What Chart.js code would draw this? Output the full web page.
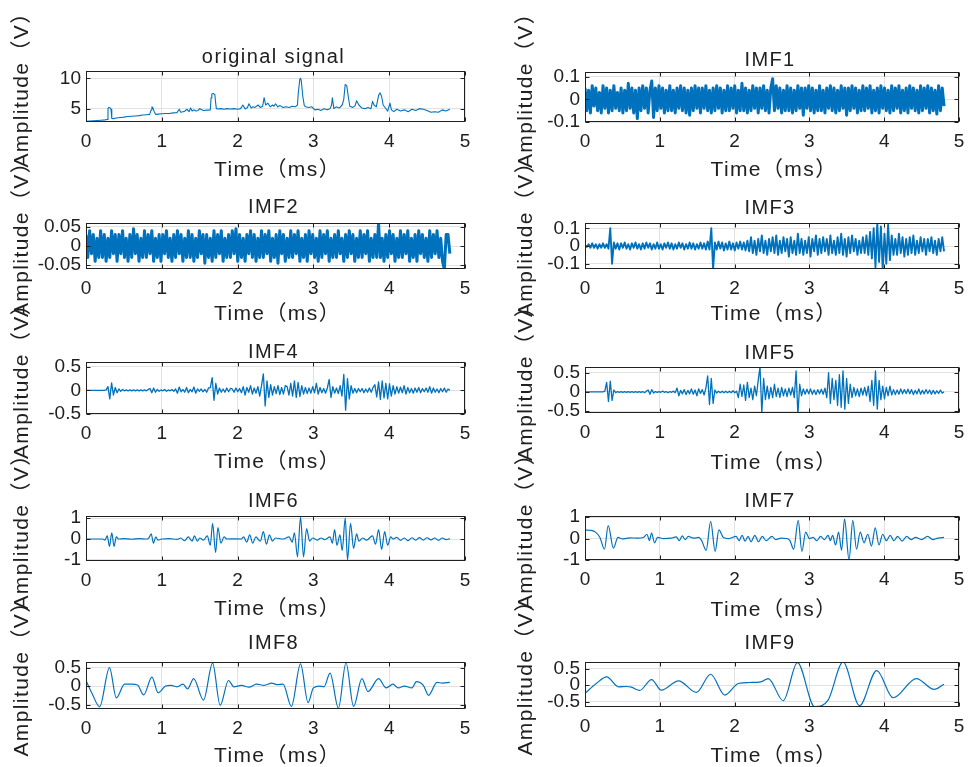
<!DOCTYPE html>
<html>
<head>
<meta charset="utf-8">
<script src="https://cdn.jsdelivr.net/npm/chart.js@4.4.1/dist/chart.umd.min.js"></script>
<style>
  html, body { margin: 0; padding: 0; background: #fff; }
  body { width: 970px; height: 767px; position: relative; overflow: hidden; }
  .panel { position: absolute; }
</style>
</head>
<body>
<script>
// ---- data ----
const xTicks = [0, 1, 2, 3, 4, 5];

// sample clock of the dense (noise-like) components
const SAMPLES = 200;
const T_END = 4.8;
const sampleTime = Array.from({length: SAMPLES}, (_, i) => +(i * T_END / (SAMPLES - 1)).toFixed(4));

const origTime = [0,0.05,0.1,0.15,0.2,0.25,0.28,0.29,0.3,0.32,
  0.33,0.34,0.36,0.4,0.45,0.5,0.55,0.6,0.65,0.7,
  0.75,0.8,0.84,0.86,0.87,0.88,0.9,0.92,0.95,1.0,
  1.05,1.1,1.15,1.2,1.23,1.25,1.28,1.3,1.33,1.36,
  1.38,1.4,1.42,1.45,1.48,1.5,1.55,1.6,1.64,1.65,
  1.66,1.68,1.7,1.71,1.72,1.74,1.78,1.82,1.86,1.9,
  1.95,2.0,2.04,2.07,2.1,2.13,2.15,2.18,2.2,2.23,
  2.27,2.3,2.33,2.35,2.37,2.4,2.43,2.46,2.48,2.5,
  2.53,2.56,2.6,2.64,2.68,2.72,2.76,2.79,2.8,2.82,
  2.83,2.84,2.86,2.88,2.9,2.94,2.98,3.02,3.06,3.1,
  3.14,3.18,3.22,3.24,3.25,3.27,3.3,3.34,3.38,3.4,
  3.42,3.44,3.46,3.48,3.52,3.55,3.57,3.6,3.64,3.68,
  3.72,3.76,3.78,3.8,3.83,3.86,3.88,3.9,3.92,3.95,
  3.98,4.01,4.03,4.06,4.1,4.15,4.2,4.25,4.3,4.35,
  4.4,4.45,4.5,4.55,4.6,4.65,4.7,4.75,4.8];
const origValues = [2.9,2.95,3.0,3.05,3.1,3.15,3.2,5.0,5.2,5.1,
  4.9,3.4,3.35,3.45,3.55,3.6,3.7,3.75,3.8,3.85,
  3.95,4.0,4.05,4.8,5.3,5.2,4.5,4.05,4.1,4.15,
  4.2,4.2,4.3,4.35,4.9,4.4,4.5,4.55,4.9,4.5,
  5.1,4.6,4.8,4.6,4.7,5.0,4.7,4.75,4.8,6.8,
  7.4,7.5,7.3,6.0,5.0,4.95,5.0,4.9,5.0,4.95,
  5.0,4.9,5.0,5.6,4.95,5.2,5.8,5.1,5.3,5.2,
  5.6,5.2,5.4,6.8,5.6,5.9,5.3,5.6,5.4,5.8,
  5.3,5.5,5.2,5.3,5.2,5.4,5.3,5.6,7.5,9.8,
  10.0,9.6,7.0,5.5,5.3,5.2,5.3,4.8,4.9,4.7,
  5.0,4.8,5.0,5.6,6.8,5.0,5.3,5.1,5.6,6.5,
  9.0,8.8,7.0,5.4,5.2,5.5,6.3,5.6,5.1,5.0,
  5.2,5.0,6.2,5.6,5.3,7.2,7.6,7.0,5.6,5.1,
  4.6,5.9,4.8,4.5,4.9,4.6,4.8,4.5,4.9,4.7,
  5.0,4.9,4.7,4.4,4.5,4.4,4.8,4.6,4.9];

const imf1 = [.05,-.05,.04,-.06,.06,-.03,.05,-.05,.03,-.06,
  .06,-.04,.05,-.06,.04,-.05,.06,-.04,.03,-.05,
  .05,-.06,.04,-.05,.07,-.04,.05,-.06,.04,-.085,
  .05,-.05,.06,-.04,.05,-.06,.04,.08,-.08,.05,
  -.05,.06,-.04,.05,-.06,.04,-.05,.06,-.05,.04,
  -.06,.05,-.04,.06,-.05,.05,-.06,.04,-.07,.05,
  -.05,.06,-.04,.05,-.06,.05,-.04,.06,-.05,.04,
  -.06,.05,-.05,.06,-.04,.05,-.06,.04,-.05,.06,
  -.05,.05,-.04,.06,-.06,.04,-.05,.07,-.05,.05,
  -.06,.04,-.05,.06,-.04,.05,-.06,.05,-.04,.06,
  -.05,.04,-.06,.05,.09,-.05,.06,-.04,.05,-.06,
  .04,-.05,.06,-.05,.05,-.06,.04,-.05,.06,-.04,
  .05,-.07,.05,-.04,.06,-.05,.05,-.06,.04,-.05,
  .06,-.05,.04,-.06,.05,-.04,.06,-.05,.05,-.06,
  .04,-.05,.06,-.04,.05,-.07,.05,-.05,.06,-.04,
  .05,-.06,.04,-.05,.06,-.05,.05,-.04,.06,-.06,
  .04,-.05,.05,-.06,.06,-.04,.05,-.05,.04,-.06,
  .06,-.05,.05,-.04,.06,-.06,.04,-.05,.05,-.06,
  .06,-.04,.05,-.05,.04,-.06,.06,-.05,.05,-.04,
  .06,-.06,.05,-.05,.04,-.065,.06,-.05,.05,-.03];

const imf2 = [.03,-.03,.04,-.02,.03,-.04,.02,-.03,.04,-.03,
  .03,-.04,.02,-.03,.04,-.02,.03,-.04,.03,-.02,
  .04,-.03,.02,-.04,.03,-.03,.045,-.02,.03,-.04,
  .02,-.03,.04,-.03,.03,-.02,.04,-.04,.02,-.03,
  .03,-.04,.03,-.02,.04,-.03,.02,-.04,.03,-.03,
  .04,-.02,.03,-.04,.02,-.03,.04,-.03,.03,-.04,
  .02,-.03,.04,-.02,.03,-.045,.03,-.03,.02,-.04,
  .04,-.03,.03,-.02,.04,-.04,.02,-.03,.03,-.03,
  .04,-.02,.045,-.04,.03,-.03,.02,-.04,.03,-.02,
  .04,-.03,.03,-.04,.02,-.03,.04,-.03,.03,-.02,
  .04,-.04,.02,-.03,.03,-.045,.04,-.02,.03,-.04,
  .02,-.03,.04,-.03,.03,-.02,.04,-.04,.02,-.03,
  .03,-.04,.04,-.02,.03,-.03,.02,-.04,.04,-.03,
  .03,-.02,.04,-.04,.02,-.03,.03,-.03,.04,-.02,
  .02,-.04,.03,-.03,.04,-.02,.03,-.04,.02,-.03,
  .04,-.03,.03,-.02,.04,-.04,.02,-.03,.03,-.03,
  .06,-.03,.02,-.04,.03,-.03,.04,-.02,.03,-.04,
  .02,-.03,.04,-.03,.03,-.02,.04,-.04,.02,-.03,
  .03,-.04,.04,-.02,.03,-.03,.02,-.04,.04,-.03,
  .03,-.02,.04,-.03,.02,-.04,-.06,.03,.03,-.02];

const imf3 = [.005,-.005,.01,-.01,.015,-.01,.01,-.015,.01,-.01,
  .015,-.01,.01,-.015,.1,-.1,.02,-.015,.015,-.02,
  .015,-.01,.02,-.015,.01,-.02,.015,-.01,.02,-.015,
  .01,-.02,.015,-.015,.02,-.01,.015,-.02,.01,-.015,
  .02,-.015,.01,-.02,.015,-.01,.02,-.015,.015,-.02,
  .01,-.015,.02,-.01,.015,-.02,.01,-.015,.02,-.015,
  .015,-.02,.01,-.015,.02,-.015,.015,-.02,.025,-.02,
  .1,-.13,.02,-.02,.025,-.015,.02,-.025,.015,-.02,
  .025,-.02,.015,-.025,.02,-.015,.025,-.02,.02,-.025,
  .03,-.03,.05,-.04,.03,-.05,.04,-.03,.06,-.04,
  .03,-.05,.04,-.03,.05,-.04,.06,-.05,.03,-.04,
  .05,-.03,.04,-.06,.05,-.04,.03,-.05,.07,-.04,
  .04,-.05,.03,-.04,.05,-.06,.04,-.03,.06,-.05,
  .04,-.04,.05,-.03,.04,-.05,.06,-.04,.03,-.05,
  .05,-.04,.07,-.05,.04,-.06,.05,-.04,.06,-.03,
  .04,-.05,.03,-.04,.05,-.04,.06,-.05,.08,-.07,
  .1,-.12,.13,-.09,.11,-.13,.07,-.1,.12,-.08,
  .06,-.05,.04,-.05,.07,-.04,.05,-.06,.04,-.05,
  .05,-.04,.06,-.05,.03,-.04,.05,-.03,.04,-.05,
  .04,-.03,.05,-.04,.03,-.05,.04,-.03,.05,-.03];

const imf4 = [0,0,0,0,0,0,0,0,0,0,
  0,.01,.08,-.18,.16,-.1,.06,-.05,.03,-.02,
  .02,-.01,.01,-.01,.01,-.01,.01,-.01,.01,-.01,
  .01,-.01,.01,-.01,.02,.04,-.05,.05,-.04,.02,
  -.02,.01,-.01,.02,-.02,.01,-.01,.02,-.02,.03,
  -.06,.07,-.03,.02,-.04,.06,-.05,.02,-.03,.07,
  -.06,.03,-.02,.03,-.03,.02,-.04,.05,.06,.27,
  -.21,.15,-.08,.05,-.04,.03,-.04,.05,-.03,.04,
  .03,-.04,.05,-.03,.04,-.05,.08,-.1,.06,-.04,
  .1,-.08,.05,-.06,.08,-.12,.1,.35,-.33,.2,
  -.15,.12,-.1,.08,-.07,.1,-.09,.06,-.08,.1,
  .08,-.1,.15,-.12,.2,-.15,.17,-.13,.1,-.08,
  .06,-.07,.05,-.06,.08,-.05,.15,-.08,.06,-.05,
  .04,-.06,.05,.23,-.15,.08,-.06,.05,-.07,.1,
  -.12,.34,-.42,.25,-.18,.1,-.06,.04,-.05,.04,
  -.03,.04,-.05,.03,-.04,.05,-.04,.06,.12,-.14,
  .18,-.19,.2,-.16,.15,-.18,.14,-.12,.1,-.08,
  .08,-.06,.07,-.05,.1,-.08,.06,-.05,.04,-.06,
  .05,-.04,.06,-.05,.04,-.03,.05,-.04,.08,-.06,
  .05,-.04,.03,-.05,.04,-.03,.05,-.04,.03,0];

const imf5 = [0,0,0,0,0,0,0,0,0,0,
  0,.02,.25,-.25,.28,-.22,.05,-.02,.01,-.01,
  .01,-.01,.01,-.01,.01,-.01,.01,-.01,.01,-.01,
  .01,-.01,.01,-.02,.02,.05,-.06,.06,-.03,.01,
  -.01,.01,-.01,.02,-.01,.01,-.02,.01,-.01,.02,
  -.02,.1,-.1,.04,-.05,.06,-.07,.04,-.05,.08,
  -.06,.05,-.1,.08,-.04,.06,-.08,.1,.42,-.33,
  .35,-.3,.05,-.03,.02,-.02,.02,-.02,.02,-.02,
  .02,-.02,.03,-.02,.02,-.15,.2,-.12,.18,-.22,
  .25,-.15,.1,-.2,.15,-.1,.3,.65,-.55,.35,
  -.2,.15,-.18,.12,-.15,.2,-.12,.1,-.14,.12,
  -.1,.08,-.12,.1,-.08,.12,-.15,.55,-.6,.2,
  -.1,.08,-.06,.07,-.05,.08,-.06,.05,-.07,.06,
  -.05,.07,-.06,.1,-.15,.5,-.3,.35,-.2,.3,
  -.35,.45,-.4,.55,-.45,.35,-.3,.2,-.15,.12,
  -.1,.08,-.12,.1,-.08,.12,-.1,.15,-.25,.3,
  -.35,.55,-.45,.3,-.2,.15,-.18,.12,-.1,.15,
  -.08,.06,-.07,.05,-.06,.08,-.05,.06,-.04,.07,
  -.05,.06,-.07,.04,-.05,.08,-.06,.04,-.05,.06,
  -.04,.05,-.06,.04,-.05,.03,-.04,.05,-.03,0];

const imf6Time = [0,0.22,0.25,0.28,0.31,0.34,0.37,0.40,0.43,0.5,
  0.6,0.7,0.8,0.83,0.86,0.89,0.92,0.95,1.0,1.1,
  1.2,1.25,1.3,1.35,1.4,1.43,1.47,1.5,1.55,1.6,
  1.64,1.67,1.71,1.74,1.78,1.82,1.86,1.95,2.05,2.08,
  2.12,2.16,2.2,2.24,2.3,2.34,2.38,2.42,2.46,2.5,
  2.6,2.68,2.72,2.75,2.79,2.83,2.87,2.91,2.95,2.99,
  3.05,3.1,3.15,3.22,3.25,3.28,3.31,3.35,3.38,3.42,
  3.45,3.49,3.53,3.57,3.6,3.65,3.7,3.78,3.82,3.86,
  3.9,3.94,3.98,4.02,4.05,4.1,4.15,4.2,4.25,4.3,
  4.35,4.4,4.45,4.5,4.55,4.6,4.65,4.7,4.75,4.8];
const imf6 = [0,0,-0.05,0.15,-0.35,0.3,-0.35,0.1,0,0.02,
  -0.01,0.02,0,0.05,0.25,-0.2,0.1,-0.05,0,0.02,
  -0.02,0.05,-0.08,0.1,-0.1,0.15,-0.1,0.05,-0.05,0.15,
  -0.3,0.75,-0.65,0.55,-0.2,0.1,0,0.01,0,0.1,
  -0.15,0.2,-0.2,0.1,-0.1,0.35,-0.25,0.2,-0.1,0.05,
  0,0.1,-0.15,0.3,-0.85,1.05,-0.85,0.5,-0.1,0.05,
  -0.05,0.05,-0.03,0.1,-0.2,0.45,-0.3,0.2,-0.55,1.0,
  -1.0,0.75,-0.45,0.25,-0.1,0.05,-0.05,0.15,-0.25,0.45,
  -0.5,0.35,-0.3,0.1,0,0.08,-0.06,0.05,-0.08,0.06,
  -0.05,0.07,-0.05,0.06,-0.04,0.05,-0.06,0.05,-0.03,0.02];

const imf7Time = [0,0.08,0.14,0.2,0.26,0.31,0.38,0.44,0.5,0.6,
  0.7,0.78,0.83,0.86,0.89,0.93,0.97,1.05,1.15,1.22,
  1.26,1.3,1.34,1.38,1.45,1.52,1.56,1.62,1.68,1.74,
  1.79,1.85,1.92,2.02,2.06,2.1,2.14,2.18,2.22,2.27,
  2.32,2.37,2.42,2.5,2.55,2.62,2.7,2.74,2.79,2.85,
  2.9,2.95,3.0,3.05,3.1,3.15,3.2,3.25,3.28,3.31,
  3.35,3.39,3.43,3.47,3.53,3.58,3.63,3.68,3.73,3.78,
  3.83,3.88,3.93,3.98,4.03,4.08,4.13,4.18,4.24,4.3,
  4.36,4.42,4.5,4.58,4.65,4.72,4.8];
const imf7 = [0.4,0.38,0.3,0.05,-0.5,0.6,-0.45,0.05,-0.02,0.03,
  0.02,0.05,0.2,-0.1,0.25,-0.2,0.05,0,0.02,0.08,
  -0.1,0.12,-0.05,0.1,0.02,0.05,-0.1,-0.55,0.8,-0.6,
  0.4,0.05,0,0.1,-0.1,0.15,-0.12,0.1,-0.15,0.15,
  -0.15,0.1,-0.1,0.1,-0.05,0.02,0,-0.1,-0.5,0.85,
  -0.6,0.3,0,0.05,-0.1,0.1,-0.05,0.15,-0.1,0.15,
  -0.3,0.3,-0.55,0.9,-1.0,0.85,-0.5,0.3,-0.2,0.2,
  -0.35,0.5,-0.3,0.2,-0.1,0.15,-0.1,0.1,-0.12,0.1,
  -0.05,0.05,-0.05,0.1,-0.05,0.02,0.05];

const imf8Time = [0,0.08,0.18,0.31,0.4,0.51,0.6,0.68,0.76,0.87,
  0.95,1.05,1.12,1.2,1.28,1.34,1.42,1.55,1.67,1.77,
  1.88,1.95,2.05,2.15,2.25,2.35,2.45,2.52,2.6,2.71,
  2.83,2.93,3.0,3.08,3.14,3.22,3.33,3.43,3.53,3.64,
  3.72,3.86,3.96,4.05,4.12,4.2,4.3,4.36,4.45,4.52,
  4.63,4.7,4.8];
const imf8 = [0.15,-0.2,-0.56,0.5,-0.32,0.05,0.05,0.03,-0.24,0.24,
  -0.18,0,0.02,-0.02,0.05,-0.08,0.2,-0.38,0.62,-0.52,
  0.15,-0.02,0.02,-0.03,0.05,0.02,0.08,0.04,0.05,-0.55,
  0.6,-0.45,-0.05,0,-0.02,0.35,-0.6,0.63,-0.55,0.2,
  -0.15,0.2,-0.05,0.05,-0.05,0,-0.05,0.12,0.02,-0.25,
  0.1,0.08,0.1];

const imf9Time = [0,0.15,0.29,0.45,0.55,0.62,0.73,0.89,1.02,1.25,
  1.49,1.68,1.87,2.05,2.2,2.35,2.45,2.65,2.84,3.07,
  3.25,3.45,3.67,3.9,4.12,4.43,4.67,4.8];
const imf9 = [-0.25,0.05,0.25,-0.05,-0.04,-0.06,-0.16,0.17,-0.15,0.13,
  -0.22,0.33,-0.3,0.05,0.08,0.1,0.2,-0.47,0.68,-0.65,
  -0.45,0.7,-0.62,0.44,-0.38,0.2,-0.13,0.03];

// ---- layout / styling ----
const FONT = '"Liberation Sans", Arial, "Noto Sans CJK SC", sans-serif';
const INK = '#202020';
const LINE = '#0072BD';
const GRID = '#e2e2e2';
const PADT = 85, PADB = 72, PADR = 15;

// box = [left, top, right, bottom] of the plot area on the page
const panels = [
  {title: 'original signal', t: origTime, v: origValues, yMin: 2.8, yMax: 11.2, yTicks: [5, 10],
   box: [86, 71, 465, 122], titleGap: 8, xLabelGap: 54, padL: 86, yLabelGap: 58, lw: 1.1},
  {title: 'IMF1', t: sampleTime, v: imf1, yMin: -0.1, yMax: 0.12, yTicks: [-0.1, 0, 0.1],
   box: [585, 72, 959, 122], titleGap: 6, xLabelGap: 54, padL: 90, yLabelGap: 53, lw: 3},
  {title: 'IMF2', t: sampleTime, v: imf2, yMin: -0.06, yMax: 0.06, yTicks: [-0.05, 0, 0.05],
   box: [86, 223, 465, 269], titleGap: 10, xLabelGap: 51, padL: 86, yLabelGap: 58, lw: 3},
  {title: 'IMF3', t: sampleTime, v: imf3, yMin: -0.13, yMax: 0.13, yTicks: [-0.1, 0, 0.1],
   box: [585, 223, 959, 269], titleGap: 9, xLabelGap: 51, padL: 90, yLabelGap: 53, lw: 1.9},
  {title: 'IMF4', t: sampleTime, v: imf4, yMin: -0.5, yMax: 0.6, yTicks: [-0.5, 0, 0.5],
   box: [86, 362, 465, 414], titleGap: 4, xLabelGap: 54, padL: 86, yLabelGap: 58, lw: 1.3},
  {title: 'IMF5', t: sampleTime, v: imf5, yMin: -0.55, yMax: 0.65, yTicks: [-0.5, 0, 0.5],
   box: [585, 367, 959, 413], titleGap: 8, xLabelGap: 56, padL: 90, yLabelGap: 53, lw: 1.3},
  {title: 'IMF6', t: imf6Time, v: imf6, yMin: -1.05, yMax: 1.1, yTicks: [-1, 0, 1], smooth: true,
   box: [86, 516, 465, 561], titleGap: 9, xLabelGap: 54, padL: 86, yLabelGap: 58, lw: 1.2},
  {title: 'IMF7', t: imf7Time, v: imf7, yMin: -1, yMax: 1.05, yTicks: [-1, 0, 1], smooth: true,
   box: [585, 516, 959, 560], titleGap: 9, xLabelGap: 56, padL: 90, yLabelGap: 53, lw: 1.2},
  {title: 'IMF8', t: imf8Time, v: imf8, yMin: -0.62, yMax: 0.65, yTicks: [-0.5, 0, 0.5], smooth: true,
   box: [86, 662, 465, 709], titleGap: 13, xLabelGap: 53, padL: 86, yLabelGap: 58, lw: 1.2},
  {title: 'IMF9', t: imf9Time, v: imf9, yMin: -0.66, yMax: 0.7, yTicks: [-0.5, 0, 0.5], smooth: true,
   box: [585, 662, 959, 707], titleGap: 13, xLabelGap: 55, padL: 90, yLabelGap: 53, lw: 1.2},
];

// axes box, inward tick marks, title and axis labels (MATLAB look)
const matlabFrame = {
  id: 'matlabFrame',
  afterDraw(chart, args, o) {
    const {ctx, chartArea: a, scales} = chart;
    const x0 = Math.round(a.left) + 0.5, y0 = Math.round(a.top) + 0.5;
    const x1 = Math.round(a.right) - 0.5, y1 = Math.round(a.bottom) - 0.5;
    ctx.save();
    ctx.strokeStyle = INK;
    ctx.lineWidth = 1;
    ctx.beginPath();
    scales.x.ticks.forEach(t => {
      const px = Math.round(scales.x.getPixelForValue(t.value)) + 0.5;
      ctx.moveTo(px, y1); ctx.lineTo(px, y1 - 4);
      ctx.moveTo(px, y0); ctx.lineTo(px, y0 + 4);
    });
    scales.y.ticks.forEach(t => {
      const py = Math.round(scales.y.getPixelForValue(t.value)) + 0.5;
      ctx.moveTo(x0, py); ctx.lineTo(x0 + 4, py);
      ctx.moveTo(x1, py); ctx.lineTo(x1 - 4, py);
    });
    ctx.stroke();
    ctx.strokeRect(x0, y0, x1 - x0, y1 - y0);

    ctx.fillStyle = INK;
    ctx.textAlign = 'center';
    ctx.textBaseline = 'alphabetic';
    ctx.letterSpacing = '1.4px';
    const cx = (a.left + a.right) / 2;
    ctx.font = '20px ' + FONT;
    ctx.fillText(o.title, cx - 2, a.top - o.titleGap);
    ctx.font = '21px ' + FONT;
    ctx.fillText('Time（ms）', cx + 2, a.bottom + o.xLabelGap);
    ctx.translate(a.left - o.yLabelGap, (a.top + a.bottom) / 2 - 12);
    ctx.rotate(-Math.PI / 2);
    ctx.fillText('Amplitude（V）', 0, 0);
    ctx.restore();
  }
};

panels.forEach(p => {
  const [L, T, R, B] = p.box;
  const w = (R - L) + p.padL + PADR;
  const h = (B - T) + PADT + PADB;
  const div = document.createElement('div');
  div.className = 'panel';
  div.style.left = (L - p.padL) + 'px';
  div.style.top = (T - PADT) + 'px';
  const canvas = document.createElement('canvas');
  canvas.width = w;
  canvas.height = h;
  div.appendChild(canvas);
  document.body.appendChild(div);

  const tickFont = {family: FONT, size: 19};
  new Chart(canvas, {
    type: 'line',
    data: {
      datasets: [{
        data: p.t.map((x, i) => ({x: x, y: p.v[i]})),
        borderColor: LINE,
        borderWidth: p.lw,
        borderJoinStyle: 'round',
        pointRadius: 0,
        tension: 0,
        cubicInterpolationMode: p.smooth ? 'monotone' : 'default'
      }]
    },
    options: {
      responsive: false,
      animation: false,
      devicePixelRatio: 1,
      layout: {padding: {top: PADT, right: PADR, left: 0, bottom: 0}},
      plugins: {
        legend: {display: false},
        title: {display: false},
        tooltip: {enabled: false},
        matlabFrame: {title: p.title, titleGap: p.titleGap, xLabelGap: p.xLabelGap, yLabelGap: p.yLabelGap}
      },
      scales: {
        x: {
          type: 'linear',
          min: 0,
          max: 5,
          afterBuildTicks: s => { s.ticks = xTicks.map(v => ({value: v})); },
          afterFit: s => { s.height = PADB; s.paddingLeft = 0; s.paddingRight = 0; },
          grid: {color: GRID, drawTicks: false},
          border: {display: false},
          ticks: {font: tickFont, color: INK, padding: 8, maxRotation: 0, autoSkip: false,
                  callback: v => String(v)}
        },
        y: {
          type: 'linear',
          min: p.yMin,
          max: p.yMax,
          afterBuildTicks: s => { s.ticks = p.yTicks.map(v => ({value: v})); },
          afterFit: s => { s.width = p.padL; s.paddingTop = 0; s.paddingBottom = 0; },
          grid: {color: GRID, drawTicks: false},
          border: {display: false},
          ticks: {font: tickFont, color: INK, padding: 5, autoSkip: false,
                  callback: v => String(v)}
        }
      }
    },
    plugins: [matlabFrame]
  });
});
</script>
</body>
</html>
